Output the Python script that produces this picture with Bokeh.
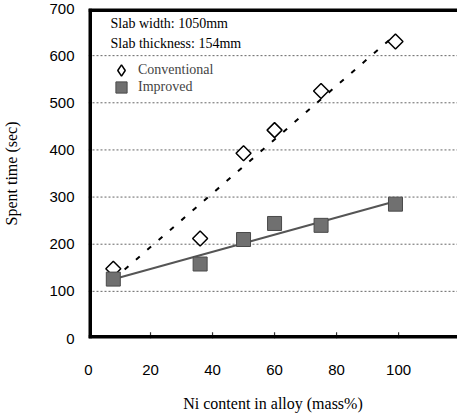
import numpy as np
from bokeh.plotting import figure
from bokeh.models import Range1d, FixedTicker, Label, Legend, LegendItem
from bokeh.embed import file_html
from bokeh.resources import INLINE

# ---- data ----
ni_content = [8, 36, 50, 60, 75, 99]
conventional = [148, 212, 393, 442, 525, 630]
improved = [126, 158, 210, 244, 240, 285]
x_ticks = [0, 20, 40, 60, 80, 100]
y_ticks = [0, 100, 200, 300, 400, 500, 600, 700]
slab_notes = ["Slab width: 1050mm", "Slab thickness: 154mm"]
series_names = ["Conventional", "Improved"]
x_title = "Ni content in alloy (mass%)"
y_title = "Spent time (sec)"

SERIF = "Liberation Serif"
SANS = "Liberation Sans"
X_END = 119
Y_END = y_ticks[-1]

p = figure(width=457, height=416, output_backend="svg", toolbar_location=None,
           x_range=Range1d(0, X_END), y_range=Range1d(0, Y_END),
           min_border_left=88, min_border_right=0, min_border_top=8, min_border_bottom=78,
           x_axis_label=x_title, y_axis_label=y_title)
p.outline_line_color = None
p.background_fill_color = "white"
p.border_fill_color = "white"
p.xgrid.visible = False
p.ygrid.visible = False

# axes (labels only; rules drawn below)
for ax, ticks in ((p.xaxis[0], x_ticks), (p.yaxis[0], y_ticks)):
    ax.ticker = FixedTicker(ticks=ticks)
    ax.axis_line_color = None
    ax.major_tick_line_color = None
    ax.minor_tick_line_color = None
    ax.major_tick_in = 0
    ax.major_tick_out = 0
    ax.minor_tick_in = 0
    ax.minor_tick_out = 0
    ax.major_label_text_font = SANS
    ax.major_label_text_font_size = "15px"
    ax.major_label_text_color = "black"
    ax.axis_label_text_font = SERIF
    ax.axis_label_text_font_size = "16px"
    ax.axis_label_text_font_style = "normal"
    ax.axis_label_text_color = "black"

p.xaxis[0].major_label_standoff = 26
p.xaxis[0].axis_label_standoff = 17
p.yaxis[0].major_label_standoff = 14
p.yaxis[0].axis_label_standoff = 26

# dotted horizontal grid lines at the inner y ticks
grid_y = y_ticks[1:-1]
p.segment(x0=[0] * len(grid_y), x1=[X_END] * len(grid_y), y0=grid_y, y1=grid_y,
          line_color="#666666", line_width=1, line_dash="2 2")

# small inward tick marks on the x axis
tick_x = x_ticks[1:]
p.segment(x0=tick_x, x1=tick_x, y0=[0] * len(tick_x), y1=[13] * len(tick_x),
          line_color="#333333", line_width=1.2)

# trend lines (least-squares fits of the data)
xs = np.array([min(ni_content), max(ni_content)], dtype=float)
c_fit = np.polyfit(ni_content, conventional, 1)
i_fit = np.polyfit(ni_content, improved, 1)
p.line(xs, np.polyval(c_fit, xs), line_color="black", line_width=2, line_dash="5 10")
p.line(xs, np.polyval(i_fit, xs), line_color="#555555", line_width=2)

# markers
r_conv = p.scatter(ni_content, conventional, marker="square", size=10.6, angle=np.pi / 4,
                   fill_color="white", line_color="black", line_width=1.5)
r_imp = p.scatter(ni_content, improved, marker="square", size=14,
                  fill_color="#707070", line_color="#4a4a4a", line_width=1)

# thick frame rules: left, bottom, top (half clipped by the frame)
p.segment(x0=[0, 0, 0], y0=[0, 0, Y_END], x1=[0, X_END, X_END], y1=[Y_END, 0, Y_END],
          line_color="black", line_width=7)

# legend symbol for the diamonds (a renderer with no drawable point)
r_conv_leg = p.scatter(x=[np.nan], y=[np.nan], marker="diamond", fill_color="white",
                       line_color="black", line_width=1.5)

leg_style = dict(glyph_width=28, glyph_height=28, label_standoff=3, padding=0, margin=0,
                 label_text_font=SERIF, label_text_font_size="14px",
                 border_line_alpha=0, background_fill_alpha=0)
p.add_layout(Legend(items=[LegendItem(label=series_names[0], renderers=[r_conv_leg])],
                    location=(19, 254), **leg_style), "center")
p.add_layout(Legend(items=[LegendItem(label=series_names[1], renderers=[r_imp])],
                    location=(19, 237), **leg_style), "center")

# slab notes
for txt, yy in zip(slab_notes, [315, 295]):
    p.add_layout(Label(x=22, y=yy, x_units="screen", y_units="screen", text=txt,
                       text_font=SERIF, text_font_size="14px", text_baseline="middle",
                       text_color="black"))

open("out.html", "w").write(file_html(p, INLINE))
